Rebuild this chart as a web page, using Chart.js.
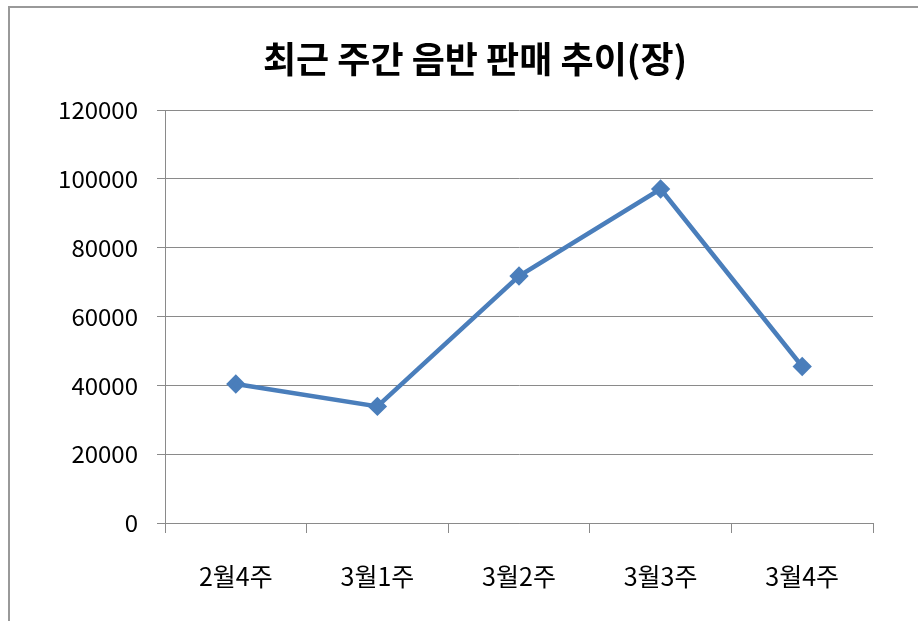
<!DOCTYPE html>
<html><head><meta charset="utf-8">
<script src="https://cdn.jsdelivr.net/npm/chart.js@4/dist/chart.umd.min.js"></script>
<style>html,body{margin:0;padding:0;background:#fff}#wrap{width:918px;height:621px;position:relative}</style>
</head><body><div id="wrap"><canvas id="c" width="918" height="621"></canvas></div>
<script>
const categories = ['2월4주', '3월1주', '3월2주', '3월3주', '3월4주'];
const salesValues = [40400, 33900, 71800, 97100, 45500];
const yTickValues = [0, 20000, 40000, 60000, 80000, 100000, 120000];
const chartTitle = '최근 주간 음반 판매 추이(장)';

const FONT = "'Noto Sans CJK KR', 'Noto Sans', sans-serif";
const GRID = '#8a8a8a';
const LINE = '#4a7ebb';

const framePlugin = {
  id: 'frame',
  beforeDraw(chart) {
    const ctx = chart.ctx;
    ctx.save();
    ctx.fillStyle = '#fff';
    ctx.fillRect(0, 0, chart.width, chart.height);
    ctx.strokeStyle = '#999';
    ctx.lineWidth = 2;
    ctx.beginPath();
    ctx.moveTo(9, chart.height);
    ctx.lineTo(9, 7);
    ctx.lineTo(chart.width, 7);
    ctx.stroke();
    ctx.restore();
  },
  afterLayout(chart) {
    // centre the title box over the region used in the reference
    if (chart.titleBlock) {
      chart.titleBlock.left = 32;
      chart.titleBlock.right = chart.width;
    }
  }
};

new Chart(document.getElementById('c'), {
  type: 'line',
  data: {
    labels: categories,
    datasets: [{
      label: '판매량',
      data: salesValues,
      borderColor: LINE,
      backgroundColor: LINE,
      borderWidth: 4.5,
      pointStyle: 'rectRot',
      pointRadius: 6.5,
      pointBackgroundColor: LINE,
      pointBorderColor: LINE,
      tension: 0,
      fill: false
    }]
  },
  options: {
    responsive: false,
    animation: false,
    layout: { padding: { left: 20, right: 45, top: 0, bottom: 0 } },
    plugins: {
      legend: { display: false },
      tooltip: { enabled: false },
      title: {
        display: true,
        text: chartTitle,
        color: '#000',
        font: { family: FONT, size: 36, weight: 'bold', lineHeight: 1.2 },
        padding: { top: 38, bottom: 29 }
      }
    },
    scales: {
      x: {
        offset: true,
        grid: { display: true, offset: true, drawOnChartArea: false, drawTicks: true, tickLength: 10, color: GRID, lineWidth: 1 },
        border: { display: true, color: GRID, width: 1 },
        ticks: { color: '#000', font: { family: FONT, size: 25 }, padding: 28, maxRotation: 0, autoSkip: false },
        afterFit(scale) { scale.height = 98; }
      },
      y: {
        min: 0,
        max: 120000,
        grid: { color: GRID, lineWidth: 1, drawTicks: true, tickLength: 8 },
        border: { display: true, color: GRID, width: 1 },
        ticks: { color: '#000', font: { family: FONT, size: 24 }, padding: 19, callback: v => String(v) },
        afterBuildTicks(scale) { scale.ticks = yTickValues.map(v => ({ value: v })); },
        afterFit(scale) { scale.width = 145; }
      }
    }
  },
  plugins: [framePlugin]
});
</script>
</body></html>
